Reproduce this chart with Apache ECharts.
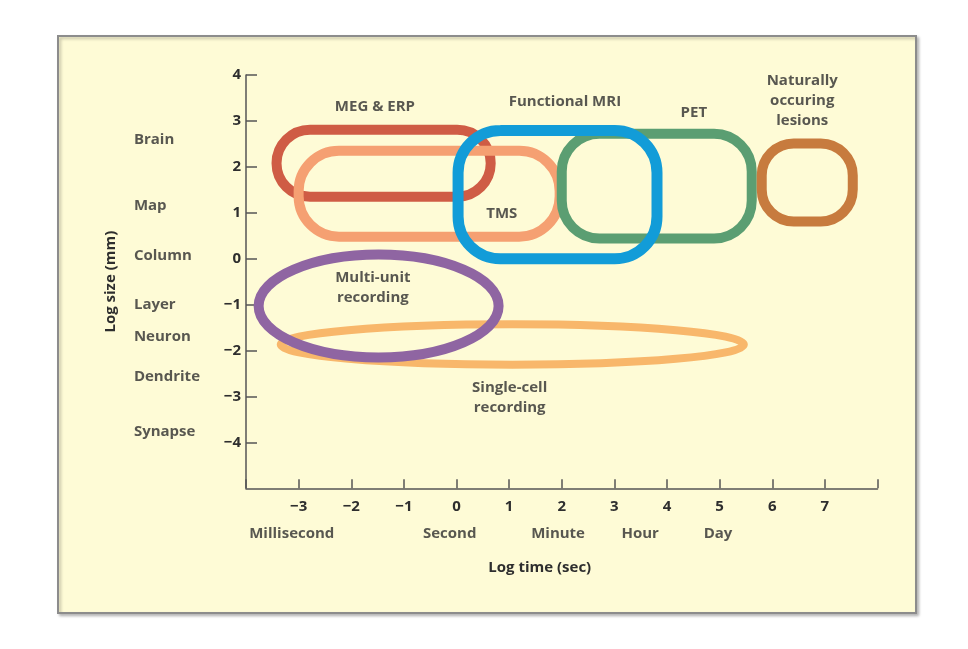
<!DOCTYPE html>
<html>
<head>
<meta charset="utf-8">
<script src="https://cdn.jsdelivr.net/npm/echarts@6/dist/echarts.min.js"></script>
<style>
html,body{margin:0;padding:0;background:#ffffff;}
#chart{width:968px;height:649px;}
</style>
</head>
<body>
<div id="chart"></div>
<script>
// ---- data ----
const xTickValues = [-4, -3, -2, -1, 0, 1, 2, 3, 4, 5, 6, 7, 8];
const yTickValues = [-4, -3, -2, -1, 0, 1, 2, 3, 4];

// rounded boxes: technique, log time from/to, log size top/bottom
const boxNames   = ['MEG & ERP', 'TMS', 'PET', 'Functional MRI', 'Naturally occuring lesions'];
const boxTimeLo  = [-3.42, -3.00, 2.00, 0.03, 5.80];
const boxTimeHi  = [0.65, 1.96, 5.61, 3.81, 7.53];
const boxSizeHi  = [2.81, 2.35, 2.72, 2.79, 2.51];
const boxSizeLo  = [1.35, 0.48, 0.44, 0.00, 0.81];

// ellipses: technique, centre time, centre size, half-range time, half-range size
const ellNames   = ['Single-cell recording', 'Multi-unit recording'];
const ellTime    = [1.06, -1.48];
const ellSize    = [-1.87, -1.03];
const ellTimeR   = [4.40, 2.28];
const ellSizeR   = [0.44, 1.12];

// technique labels
const techLabelText = ['MEG & ERP', 'Functional MRI', 'PET', 'Naturally\noccuring\nlesions', 'TMS', 'Multi-unit\nrecording', 'Single-cell\nrecording'];
const techLabelTime = [-1.55, 2.06, 4.51, 6.57, 0.86, -1.59, 1.01];
const techLabelSize = [3.31, 3.42, 3.18, 3.44, 0.98, -0.63, -3.03];

// size scale names
const sizeNames  = ['Brain', 'Map', 'Column', 'Layer', 'Neuron', 'Dendrite', 'Synapse'];
const sizeValues = [2.59, 1.15, 0.07, -1.00, -1.70, -2.57, -3.77];
const sizeNameTime = -6.13;

// time scale names
const timeNames  = ['Millisecond', 'Second', 'Minute', 'Hour', 'Day'];
const timeValues = [-3.13, -0.13, 1.93, 3.49, 4.97];
const timeNameSize = -5.99;

// ---- styles ----
const boxColors  = ['#cf5c45', '#f5a072', '#5b9e72', '#129cd8', '#c77b3e'];
const boxRadius  = [0.5, 0.47, 0.36, 0.33, 0.41];
const boxWidth   = [10, 10, 10, 11, 10];
const ellColors  = ['#f8b76b', '#8f65a2'];
const ellWidth   = [8, 10];
const FONT = '"Open Sans", "Noto Sans", sans-serif';
const TXT = '#2e2e2e';
const FW = 700;

const chart = echarts.init(document.getElementById('chart'));
const minus = v => String(v).replace('-', '\u2212');

const option = {
  backgroundColor: '#ffffff',
  animation: false,
  graphic: [{
    type: 'rect', left: 57, top: 35, z: -10,
    shape: { width: 858, height: 577 },
    style: { fill: '#fefbd6', stroke: '#8c8c8c', lineWidth: 2,
             shadowColor: 'rgba(0,0,0,0.25)', shadowOffsetX: 2, shadowOffsetY: 2, shadowBlur: 3 }
  }],
  grid: { left: 246, right: 90.5, top: 75, bottom: 160.7, containLabel: false },
  xAxis: {
    type: 'value', min: -4, max: 8, interval: 1,
    name: 'Log time (sec)', nameLocation: 'middle', nameGap: 72,
    nameTextStyle: { fontFamily: FONT, fontSize: 15, fontWeight: FW, color: TXT, padding: [0, 44, 0, 0], verticalAlign: 'top' },
    axisLine: { show: true, onZero: false, lineStyle: { color: '#555', width: 1.5 } },
    axisTick: { show: true, inside: true, length: 9, lineStyle: { color: '#555', width: 1.5 },
                customValues: xTickValues },
    splitLine: { show: false },
    axisLabel: {
      margin: 11, fontFamily: FONT, fontSize: 15, fontWeight: FW, color: TXT,
      formatter: v => (v <= -4 || v >= 8) ? '' : minus(v)
    }
  },
  yAxis: {
    type: 'value', min: -5, max: 4, interval: 1,
    name: 'Log size (mm)', nameLocation: 'middle', nameGap: 128,
    nameTextStyle: { fontFamily: FONT, fontSize: 15, fontWeight: FW, color: TXT },
    axisLine: { show: true, onZero: false, lineStyle: { color: '#555', width: 1.5 } },
    axisTick: { show: true, inside: true, length: 11, lineStyle: { color: '#555', width: 1.5 },
                customValues: yTickValues },
    splitLine: { show: false },
    axisLabel: {
      margin: 5, fontFamily: FONT, fontSize: 15, fontWeight: FW, color: TXT,
      formatter: v => v <= -5 ? '' : minus(v)
    }
  },
  series: [
    {
      type: 'custom', name: 'boxes', clip: false, z: 3,
      data: boxNames.map((n, i) => ({ name: n, value: [boxTimeLo[i], boxTimeHi[i], boxSizeHi[i], boxSizeLo[i], i] })),
      renderItem: function (params, api) {
        const i = api.value(4);
        const p0 = api.coord([api.value(0), api.value(2)]);
        const p1 = api.coord([api.value(1), api.value(3)]);
        const w = p1[0] - p0[0], h = p1[1] - p0[1];
        return {
          type: 'rect',
          shape: { x: p0[0], y: p0[1], width: w, height: h, r: Math.min(w, h) * boxRadius[i] },
          style: { fill: 'none', stroke: boxColors[i], lineWidth: boxWidth[i] }
        };
      }
    },
    {
      type: 'custom', name: 'ellipses', clip: false, z: 3,
      data: ellNames.map((n, i) => ({ name: n, value: [ellTime[i], ellSize[i], ellTimeR[i], ellSizeR[i], i] })),
      renderItem: function (params, api) {
        const i = api.value(4);
        const c = api.coord([api.value(0), api.value(1)]);
        const e = api.coord([api.value(0) + api.value(2), api.value(1) + api.value(3)]);
        return {
          type: 'ellipse',
          shape: { cx: c[0], cy: c[1], rx: Math.abs(e[0] - c[0]), ry: Math.abs(c[1] - e[1]) },
          style: { fill: 'none', stroke: ellColors[i], lineWidth: ellWidth[i] }
        };
      }
    },
    {
      type: 'scatter', name: 'techLabels', clip: false, symbolSize: 0, z: 5, silent: true,
      data: techLabelText.map((t, i) => ({ name: t, value: [techLabelTime[i], techLabelSize[i]] })),
      label: { show: true, position: 'inside', formatter: p => p.name,
               fontFamily: FONT, fontSize: 15, fontWeight: FW, color: TXT, lineHeight: 20, align: 'center', verticalAlign: 'middle' }
    },
    {
      type: 'scatter', name: 'sizeNames', clip: false, symbolSize: 0, z: 5, silent: true,
      data: sizeNames.map((t, i) => ({ name: t, value: [sizeNameTime, sizeValues[i]] })),
      label: { show: true, position: 'inside', formatter: p => p.name,
               fontFamily: FONT, fontSize: 15, fontWeight: FW, color: TXT, align: 'left', verticalAlign: 'middle' }
    },
    {
      type: 'scatter', name: 'timeNames', clip: false, symbolSize: 0, z: 5, silent: true,
      data: timeNames.map((t, i) => ({ name: t, value: [timeValues[i], timeNameSize] })),
      label: { show: true, position: 'inside', formatter: p => p.name,
               fontFamily: FONT, fontSize: 15, fontWeight: FW, color: TXT, align: 'center', verticalAlign: 'middle' }
    }
  ]
};
chart.setOption(option);
</script>
</body>
</html>
